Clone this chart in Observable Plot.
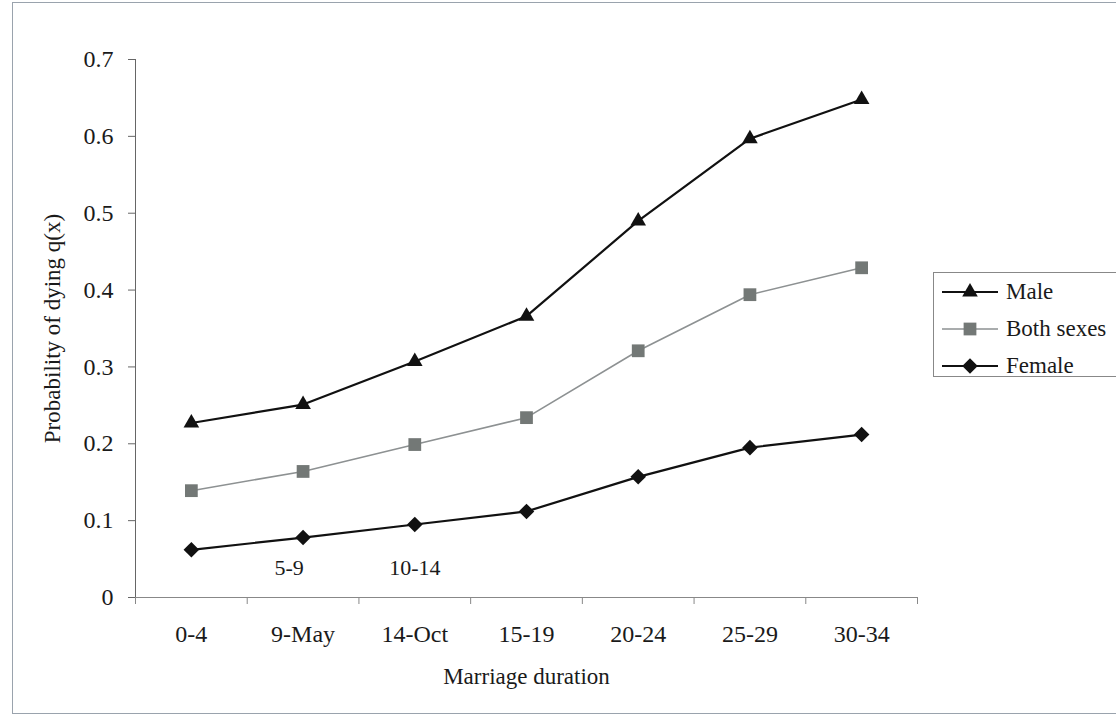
<!DOCTYPE html>
<html>
<head>
<meta charset="utf-8">
<script src="https://cdn.jsdelivr.net/npm/d3@7"></script>
<script src="https://cdn.jsdelivr.net/npm/@observablehq/plot@0.6"></script>
<style>
  html, body { margin: 0; padding: 0; background: #fff; }
  #wrap { position: relative; width: 1116px; height: 720px; overflow: hidden; font-family: "Liberation Serif", "Times New Roman", serif; }
  #border { position: absolute; left: 12px; top: 2px; width: 1110px; height: 712px; border: 1px solid #9aa3ad; box-sizing: border-box; pointer-events: none; }
  #legend { position: absolute; left: 933px; top: 272px; width: 200px; height: 105px; border: 1px solid #888; box-sizing: border-box; background: #fff; }
  #legend .row { position: absolute; left: 6px; height: 26px; display: flex; align-items: center; font-size: 23px; color: #1a1a1a; white-space: nowrap; }
  #legend svg { margin-right: 6px; }
</style>
</head>
<body>
<div id="wrap">
  <div id="chart"></div>
  <div id="border"></div>
  <div id="legend"></div>
</div>
<script>
// ---- data ----
const categories = ["0-4", "9-May", "14-Oct", "15-19", "20-24", "25-29", "30-34"];
const male = [0.227, 0.251, 0.307, 0.366, 0.490, 0.597, 0.648];
const bothSexes = [0.139, 0.164, 0.199, 0.234, 0.321, 0.394, 0.429];
const female = [0.062, 0.078, 0.095, 0.112, 0.157, 0.195, 0.212];
const seriesNames = ["Male", "Both sexes", "Female"];
const yTicks = [0, 0.1, 0.2, 0.3, 0.4, 0.5, 0.6, 0.7];
const extraLabelA = [{i: 1, text: "5-9"}];
const extraLabelB = [{i: 2, text: "10-14"}];
const xTitle = "Marriage duration";
const yTitle = "Probability of dying q(x)";

const seriesValues = [male, bothSexes, female];
const rows = [];
seriesNames.forEach((s, k) => seriesValues[k].forEach((v, i) => rows.push({series: s, i, v})));
const idx = categories.map((_, i) => i);
const bounds = d3.range(-0.5, categories.length, 1);

const styles = {
  "Male": {stroke: "#111", fill: "#111", symbol: "triangle", r: 5.8, sw: 2.2},
  "Both sexes": {stroke: "#8d9192", fill: "#737876", symbol: "square", r: 7.2, sw: 1.6},
  "Female": {stroke: "#111", fill: "#111", symbol: "diamond2", r: 7.0, sw: 2.2}
};
const FONT = "'Liberation Serif', 'Times New Roman', serif";

const marks = [
  Plot.axisY({ticks: yTicks, tickSize: 7, tickPadding: 15, tickFormat: d => d === 0 ? "0" : d3.format(".1f")(d), fontSize: 24, label: null, stroke: "#666", color: "#1a1a1a"}),
  Plot.axisX({ticks: bounds, tickSize: 7, tickFormat: () => "", label: null, stroke: "#888"}),
  Plot.axisX({ticks: idx, tickSize: 0, tickPadding: 27, tickFormat: i => categories[i], fontSize: 24, label: null, color: "#1a1a1a"}),
  Plot.ruleX([-0.5], {stroke: "#666", strokeWidth: 1}),
  Plot.ruleY([0], {stroke: "#888", strokeWidth: 1.2}),
  Plot.text(extraLabelA, {x: "i", y: () => 0, text: "text", dy: -30, dx: -14, fontSize: 22, fill: "#1a1a1a"}),
  Plot.text(extraLabelB, {x: "i", y: () => 0, text: "text", dy: -30, fontSize: 22, fill: "#1a1a1a"}),
  Plot.text([xTitle], {frameAnchor: "bottom", dy: 86, fontSize: 23, fill: "#1a1a1a"}),
  Plot.text([yTitle], {frameAnchor: "left", textAnchor: "middle", rotate: -90, dx: -83, fontSize: 23, fill: "#1a1a1a"})
];
for (const s of seriesNames) {
  const st = styles[s];
  const data = rows.filter(d => d.series === s);
  marks.push(Plot.line(data, {x: "i", y: "v", stroke: st.stroke, strokeWidth: st.sw}));
}
for (const s of seriesNames) {
  const st = styles[s];
  const data = rows.filter(d => d.series === s);
  marks.push(Plot.dot(data, {x: "i", y: "v", symbol: () => st.symbol, r: st.r, fill: st.fill, stroke: "none"}));
}

const chart = Plot.plot({
  width: 1116,
  height: 720,
  marginLeft: 135,
  marginRight: 199,
  marginTop: 59,
  marginBottom: 123,
  style: {fontFamily: FONT, background: "transparent", color: "#1a1a1a"},
  x: {type: "linear", domain: [-0.5, categories.length - 0.5]},
  y: {domain: [0, 0.7]},
  symbol: {type: "identity"},
  marks
});
document.getElementById("chart").appendChild(chart);

// ---- legend ----
const legend = d3.select("#legend");
seriesNames.forEach((s, k) => {
  const st = styles[s];
  const row = legend.append("div").attr("class", "row").style("top", (6 + k * 37) + "px");
  const svg = row.append("svg").attr("width", 60).attr("height", 20);
  svg.append("line").attr("x1", 2).attr("x2", 58).attr("y1", 10).attr("y2", 10)
    .attr("stroke", st.stroke).attr("stroke-width", st.sw);
  const symMap = {triangle: d3.symbolTriangle, square: d3.symbolSquare, diamond2: d3.symbolDiamond2};
  svg.append("path").attr("transform", "translate(30,10)")
    .attr("d", d3.symbol(symMap[st.symbol], Math.PI * st.r * st.r)())
    .attr("fill", st.fill);
  row.append("span").text(s);
});
</script>
</body>
</html>
